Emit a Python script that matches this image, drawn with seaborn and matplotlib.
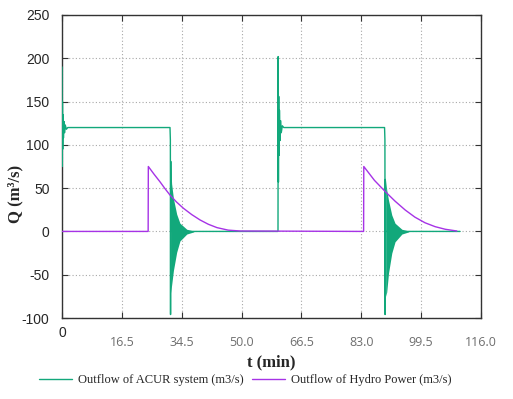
import numpy as np
import pandas as pd
import matplotlib
matplotlib.use("Agg")
import matplotlib.pyplot as plt
import seaborn as sns

sns.set_style("white")
plt.rcParams["font.family"] = ["Liberation Sans", "DejaVu Sans"]

# ACUR outflow (m3/s) - step profile with spikes
t_acur = [0, 0.05, 0.12, 0.2, 0.3, 0.4, 0.55, 0.7, 0.9, 1.2, 1.6,
          29.9, 30.0, 30.05, 30.1, 30.15, 35.0,
          59.8, 59.85, 59.92, 60.0, 60.1, 60.2, 60.35, 60.5, 60.7, 61.0, 61.4,
          89.3, 89.4, 89.45, 89.5, 89.55, 94.5, 110.2]
q_acur = [190, 75, 150, 95, 135, 108, 127, 114, 123, 118, 120,
          120, 106, -96, 81, 0, 0,
          0, 202, 57, 156, 88, 140, 105, 128, 114, 122, 120,
          120, 106, -96, 60, 0, 0, 0]

# envelope of the fast oscillation after each closure
band1_t = [30.05, 30.35, 30.85, 31.75, 32.65, 34.55, 36.5]
band1_hi = [81, 55, 38, 20, 9.5, 2.5, 0.5]
band1_lo = [-71, -62, -45, -24, -11, -3, -0.5]
band2_t = [89.6, 89.9, 90.4, 91.3, 92.2, 94.1, 96.0]
band2_hi = [60, 48, 36, 19, 9.5, 2.5, 0.5]
band2_lo = [-75, -70, -48, -25, -12, -3, -0.5]

# hydro power outflow (m3/s)
t_hydro = [0, 23.85, 23.9, 25.5, 27.1, 28.5, 29.9, 31.7, 33.6, 35.9, 38.2,
           40.5, 42.9, 46.0, 49.3,
           83.5, 83.55, 86.5, 89.5, 92.2, 95.0, 97.7, 100.5, 103.3, 106.1, 109.3]
q_hydro = [0, 0, 75, 66, 57.5, 49.5, 42, 34, 26.8, 19.5, 13.3,
           8.3, 4.4, 1.5, 0.5,
           0, 75, 59, 46, 35, 24.8, 16.5, 10, 5.5, 2.5, 0.5]

xticks = [0, 16.57, 33.14, 49.71, 66.29, 82.86, 99.43, 116.0]
xlabels = ["", "16.5", "34.5", "50.0", "66.5", "83.0", "99.5", "116.0"]
yticks = [-100, -50, 0, 50, 100, 150, 200, 250]

green = "#12a87b"
purple = "#a633e6"

df_acur = pd.DataFrame({"t": t_acur, "Q": q_acur})
df_hydro = pd.DataFrame({"t": t_hydro, "Q": q_hydro})

fig = plt.figure(figsize=(5.13, 3.99), dpi=100)
ax = fig.add_axes([62 / 513, 1 - 318 / 399, 419 / 513, 303 / 399])

ax.fill_between(band1_t, band1_lo, band1_hi, color=green, lw=0, zorder=2)
ax.fill_between(band2_t, band2_lo, band2_hi, color=green, lw=0, zorder=2)
sns.lineplot(data=df_acur, x="t", y="Q", ax=ax, color=green, lw=1.0,
             estimator=None, sort=False, zorder=3,
             label="Outflow of ACUR system (m3/s)")
sns.lineplot(data=df_hydro, x="t", y="Q", ax=ax, color=purple, lw=1.0,
             estimator=None, sort=False, zorder=4,
             label="Outflow of Hydro Power (m3/s)")

ax.set_xlim(0, 116)
ax.set_ylim(-100, 250)
ax.set_xticks(xticks)
ax.set_xticklabels(xlabels, color="#6e6e6e", fontsize=9, family="Open Sans")
ax.set_yticks(yticks)
ax.set_yticklabels([str(v) for v in yticks], fontsize=10)
ax.tick_params(axis="both", direction="in", length=4, width=0.8, color="#333333",
               top=True, right=True, bottom=True, left=True)
ax.tick_params(axis="x", pad=13)
ax.tick_params(axis="y", pad=9)
ax.text(0, -0.05, "0", transform=ax.get_xaxis_transform(), ha="center", va="center",
        fontsize=10)

ax.grid(True, color="#a8a8a8", linestyle=(0, (1, 2)), lw=0.8)
for s in ax.spines.values():
    s.set_color("#333333")
    s.set_linewidth(1.0)

ax.set_xlabel("t (min)", family="Liberation Serif", fontweight="bold", fontsize=12,
              labelpad=4)
ax.set_ylabel("Q (m\u00b3/s)", family="Liberation Serif", fontweight="bold", fontsize=12)
ax.yaxis.set_label_coords(-0.092, 0.41)

ax.get_legend().remove()
fig.legend(loc="center left", bbox_to_anchor=(39 / 513, 1 - 380 / 399), ncol=2,
           frameon=False, prop={"family": "Liberation Serif", "size": 9},
           handlelength=2.6, handletextpad=0.5, columnspacing=0.7,
           borderpad=0, borderaxespad=0)

fig.savefig("out.png", dpi=100)
